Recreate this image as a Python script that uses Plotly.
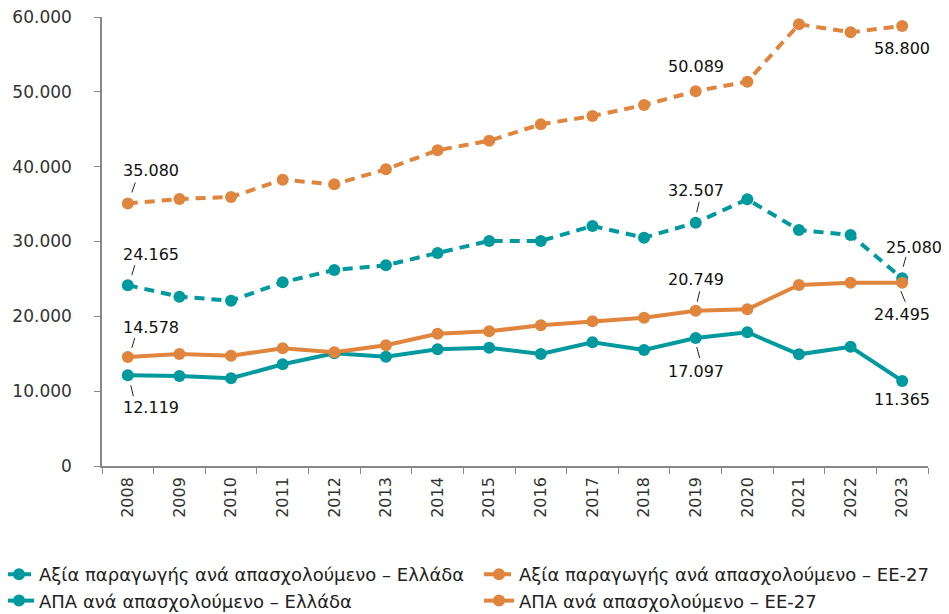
import plotly.graph_objects as go

years = [str(y) for y in range(2008, 2024)]

aksia_ellada = [24165, 22630, 22090, 24550, 26190, 26820, 28460, 30070, 30070, 32070,
                30510, 32507, 35640, 31540, 30870, 25080]
aksia_ee27 = [35080, 35680, 35950, 38260, 37640, 39650, 42190, 43470, 45660, 46770,
              48240, 50089, 51360, 59030, 57960, 58800]
apa_ellada = [12119, 12030, 11720, 13590, 15060, 14610, 15590, 15810, 14970, 16530,
              15500, 17097, 17870, 14920, 15940, 11365]
apa_ee27 = [14578, 14970, 14740, 15730, 15190, 16130, 17680, 18000, 18800, 19340,
            19820, 20749, 20940, 24190, 24500, 24495]

names = [
    "Αξία παραγωγής ανά απασχολούμενο – Ελλάδα",
    "Αξία παραγωγής ανά απασχολούμενο – ΕΕ-27",
    "ΑΠΑ ανά απασχολούμενο – Ελλάδα",
    "ΑΠΑ ανά απασχολούμενο – ΕΕ-27",
]

TEAL = "#00999E"
ORANGE = "#E0853E"
FONT = "DejaVu Sans"

series = [
    (aksia_ellada, TEAL, "10px,7px", "legend"),
    (aksia_ee27, ORANGE, "10px,7px", "legend2"),
    (apa_ellada, TEAL, "solid", "legend"),
    (apa_ee27, ORANGE, "solid", "legend2"),
]

fig = go.Figure()
for (vals, col, dash, lg), nm in zip(series, names):
    fig.add_trace(go.Scatter(
        x=years, y=vals, name=nm, mode="lines+markers",
        line=dict(color=col, width=4, dash=dash),
        marker=dict(color=col, size=12),
        legend=lg,
    ))

def fmt(v):
    return f"{v:,}".replace(",", ".")

# label spec: (series values, year index, text dx, text dy, leader or None)
labels = [
    (aksia_ee27, 0, 23, -33, (4, -11, 7.5, -21)),
    (aksia_ellada, 0, 23, -31, (4, -10, 7, -20)),
    (apa_ee27, 0, 23, -29, (4, -9, 7, -19)),
    (apa_ellada, 0, 23, 32, (3, 10, 5.5, 21)),
    (aksia_ee27, 11, 0, -25, None),
    (aksia_ellada, 11, 0, -32, (1, -10.5, 3.5, -21)),
    (apa_ee27, 11, 0, -31, (1.5, -9, 4, -19.5)),
    (apa_ellada, 11, 0, 33, (1, 9, 4, 20)),
    (aksia_ee27, 15, 0, 23, None),
    (aksia_ellada, 15, 12, -31, (1, -11.5, 3.7, -21.5)),
    (apa_ee27, 15, 0, 32, (-1.3, 8.5, 3, 19)),
    (apa_ellada, 15, 0, 19, None),
]

for vals, i, dx, dy, lead in labels:
    fig.add_annotation(
        x=i, y=vals[i], text=fmt(vals[i]), showarrow=False,
        xshift=dx, yshift=-dy,
        font=dict(family=FONT, size=16, color="#111111"),
        xanchor="center", yanchor="middle",
    )
    if lead:
        x0, y0, x1, y1 = lead
        fig.add_shape(
            type="line", xref="x", yref="y",
            xsizemode="pixel", ysizemode="pixel",
            xanchor=i, yanchor=vals[i],
            x0=x0, x1=x1, y0=-y0, y1=-y1,
            line=dict(color="#222222", width=1),
        )

W, H = 941, 606
L, R, T, B = 94, 21, 9, 148
PW = W - L - R

legend_common = dict(
    orientation="v", xref="paper", yref="container",
    yanchor="top", xanchor="left",
    font=dict(family=FONT, size=18, color="#222222"),
    itemwidth=30, tracegroupgap=0, bgcolor="rgba(0,0,0,0)",
)

fig.update_layout(
    width=W, height=H,
    margin=dict(l=L, r=R, t=T, b=B, autoexpand=False),
    paper_bgcolor="white", plot_bgcolor="white",
    separators=",.",
    font=dict(family=FONT, color="#333333"),
    showlegend=True,
    legend=dict(x=(-9 - L) / PW, y=1 - 548 / H, **legend_common),
    legend2=dict(x=(471 - L) / PW, y=1 - 548 / H, **legend_common),
)

fig.update_xaxes(
    type="category", range=[-0.5, len(years) - 0.5], autorange=False,
    showgrid=False, showline=True, linecolor="#888888", linewidth=1.5,
    ticks="outside", tickson="boundaries", ticklen=6, tickcolor="#888888",
    tickangle=-90, tickfont=dict(family=FONT, size=16, color="#333333"),
    ticklabelstandoff=3,
)
fig.update_yaxes(
    range=[0, 60000], autorange=False, dtick=10000, tickformat=",d",
    showgrid=False, zeroline=False,
    showline=True, linecolor="#888888", linewidth=1.5,
    ticks="outside", ticklen=6, tickcolor="#888888",
    tickfont=dict(family=FONT, size=17, color="#333333"),
    ticklabelstandoff=19, ticklabeloverflow="allow",
)

fig.write_html("out.html")
